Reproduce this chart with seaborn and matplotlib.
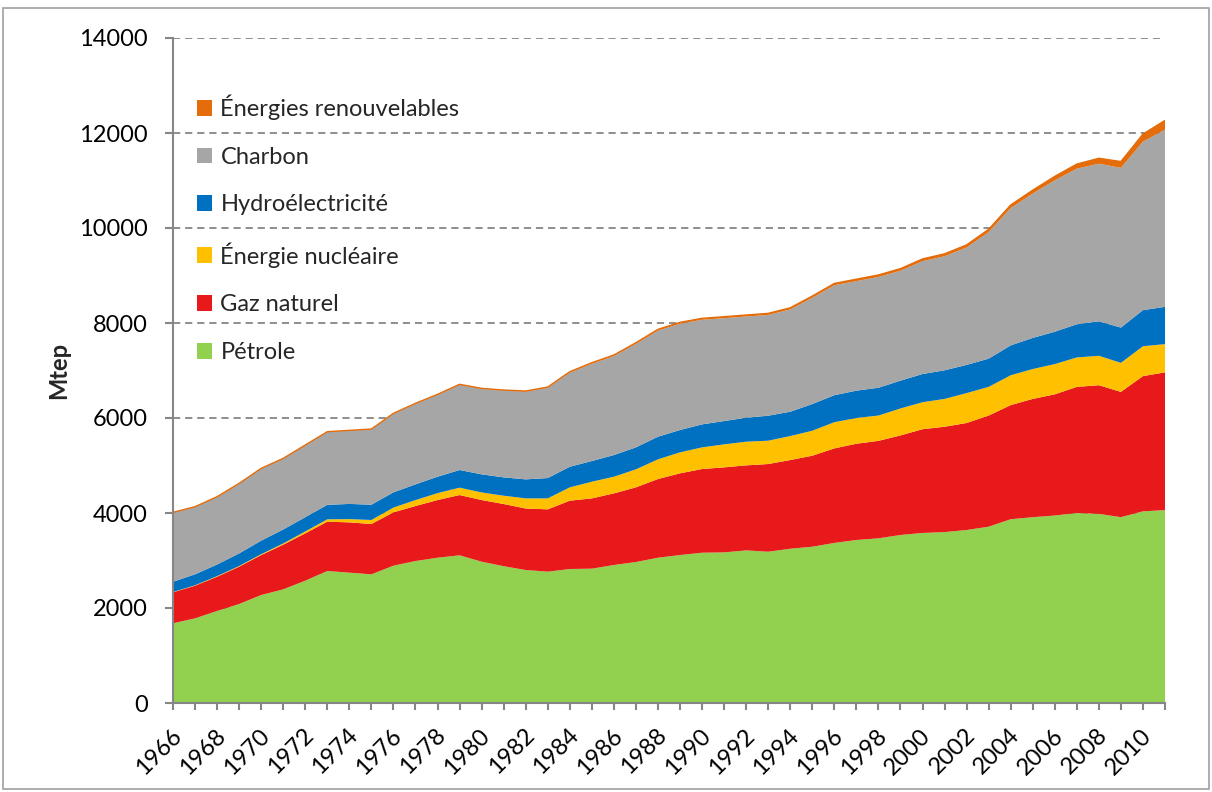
import numpy as np
import pandas as pd
import matplotlib
matplotlib.use("Agg")
import matplotlib.pyplot as plt
import matplotlib.transforms as mtransforms
from matplotlib.patches import Patch, Rectangle
import seaborn as sns

years = list(range(1966, 2012))

petrole = [1678, 1782, 1937, 2084, 2273, 2393, 2575, 2779, 2744, 2709,
           2891, 2989, 3059, 3109, 2975, 2880, 2800, 2765, 2821, 2828,
           2905, 2968, 3059, 3115, 3164, 3171, 3213, 3185, 3248, 3290,
           3370, 3432, 3467, 3537, 3580, 3598, 3642, 3712, 3869, 3912,
           3947, 4000, 3982, 3912, 4035, 4061]
gaz = [652, 688, 722, 786, 842, 940, 997, 1038, 1059, 1059,
       1123, 1158, 1214, 1269, 1298, 1309, 1295, 1312, 1438, 1480,
       1508, 1572, 1656, 1720, 1762, 1790, 1790, 1846, 1867, 1916,
       1990, 2026, 2052, 2096, 2184, 2218, 2253, 2340, 2402, 2490,
       2551, 2655, 2708, 2638, 2847, 2900]
nucleaire = [7, 9, 12, 14, 18, 25, 40, 50, 68, 85,
             100, 125, 145, 155, 160, 175, 213, 231, 281, 351,
             351, 379, 415, 442, 456, 484, 498, 491, 505, 526,
             552, 542, 533, 568, 568, 586, 629, 603, 629, 629,
             637, 620, 620, 611, 629, 594]
hydro = [215, 230, 245, 265, 285, 295, 300, 305, 320, 322,
         321, 331, 346, 372, 381, 386, 400, 428, 434, 435,
         456, 463, 476, 470, 484, 491, 505, 526, 512, 562,
         568, 576, 585, 585, 594, 602, 594, 594, 628, 655,
         681, 699, 725, 743, 760, 785]
charbon = [1457, 1419, 1421, 1469, 1515, 1491, 1511, 1532, 1540, 1584,
           1653, 1696, 1723, 1792, 1798, 1826, 1846, 1900, 1982, 2050,
           2084, 2179, 2234, 2239, 2202, 2166, 2130, 2122, 2153, 2237,
           2315, 2306, 2332, 2314, 2375, 2402, 2472, 2664, 2891, 3039,
           3188, 3275, 3319, 3362, 3546, 3730]
renouvelables = [5, 5, 6, 6, 7, 7, 8, 8, 9, 9,
                 10, 10, 11, 12, 12, 13, 14, 16, 18, 20,
                 22, 24, 26, 28, 30, 31, 32, 33, 35, 36,
                 38, 40, 42, 44, 48, 50, 54, 58, 65, 72,
                 83, 97, 114, 133, 160, 195]

series = ["Pétrole", "Gaz naturel", "Énergie nucléaire", "Hydroélectricité",
          "Charbon", "Énergies renouvelables"]
colors = ["#92D050", "#E8191A", "#FFC000", "#0070C0", "#A6A6A6", "#E46C0A"]

df = pd.DataFrame({"year": years, "Pétrole": petrole, "Gaz naturel": gaz,
                   "Énergie nucléaire": nucleaire, "Hydroélectricité": hydro,
                   "Charbon": charbon, "Énergies renouvelables": renouvelables})
df["total"] = df[series].sum(axis=1)

sns.set_theme(style="white")
plt.rcParams["font.family"] = ["Lato", "DejaVu Sans"]

grey = "#868686"
fig = plt.figure(figsize=(12.12, 7.92), dpi=100)
ax = fig.add_axes([173 / 1212, 1 - 703 / 792, 992 / 1212, 665 / 792])

ax.stackplot(df["year"], [df[s] for s in series], colors=colors,
             linewidth=0, edgecolor="none", zorder=3)
sns.lineplot(data=df, x="year", y="total", color=colors[-1], lw=1.0, ax=ax, zorder=4)

ax.set_xlim(1966, 2011)
ax.set_ylim(0, 14000)
ax.set_yticks(range(0, 14001, 2000))
for v in range(2000, 14001, 2000):
    ax.axhline(v, color=grey, lw=1.3, ls=(0, (4, 2.7)), zorder=1, xmax=0.998)

ax.set_xticks(years)
ax.set_xticklabels([str(y) if y % 2 == 0 else "" for y in years])
for spine in ["top", "right"]:
    ax.spines[spine].set_visible(False)
for spine in ["left", "bottom"]:
    ax.spines[spine].set_color(grey)
    ax.spines[spine].set_linewidth(1.5)
    ax.spines[spine].set_zorder(5)

ax.tick_params(axis="y", direction="out", length=6, width=1.5, color=grey,
               labelsize=17, pad=12, labelcolor="black", left=True)
ax.tick_params(axis="x", direction="out", length=5, width=1.5, color=grey,
               labelsize=17, pad=16, labelcolor="black", bottom=True)
offset = mtransforms.ScaledTranslation(5 / 100, 0, fig.dpi_scale_trans)
for lab in ax.get_xticklabels():
    lab.set_rotation(45)
    lab.set_ha("right")
    lab.set_va("center")
    lab.set_rotation_mode("anchor")
    lab.set_transform(lab.get_transform() + offset)

ax.set_xlabel("")
ax.set_ylabel("Mtep", fontsize=17, fontweight="bold")
ax.yaxis.set_label_coords(-0.104, 0.5)

handles = [Patch(facecolor=c, edgecolor="none") for c in colors][::-1]
ax.legend(handles, series[::-1], loc="upper left", bbox_to_anchor=(0.024, 0.915),
          frameon=False, fontsize=17, handlelength=0.65, handleheight=0.65,
          handletextpad=0.35, labelspacing=1.13, borderpad=0, borderaxespad=0)

fig.patches.append(Rectangle((3 / 1212, 3 / 792), 1206 / 1212, 781 / 792,
                             transform=fig.transFigure, fill=False,
                             edgecolor="#A0A0A0", lw=1.2))

fig.savefig("out.png", dpi=100)
